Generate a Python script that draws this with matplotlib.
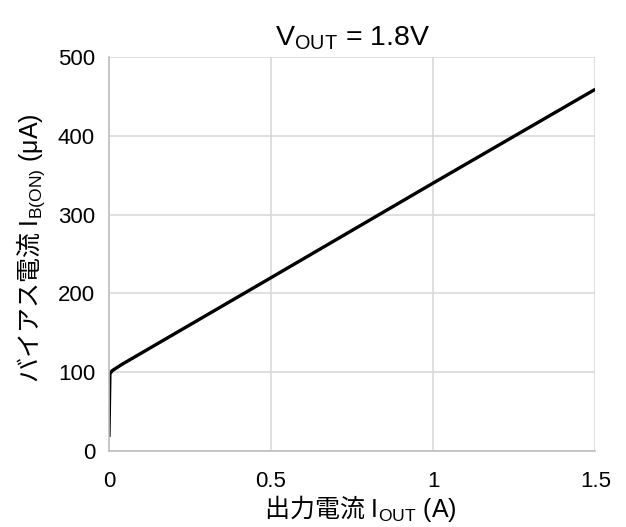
import matplotlib
matplotlib.use("Agg")
import matplotlib.pyplot as plt

plt.rcParams['font.family'] = ['Liberation Sans', 'Noto Sans CJK JP']
plt.rcParams['mathtext.fontset'] = 'custom'
plt.rcParams['mathtext.rm'] = 'Liberation Sans'
plt.rcParams['mathtext.it'] = 'Liberation Sans'
plt.rcParams['mathtext.sf'] = 'Noto Sans CJK JP'
plt.rcParams['mathtext.default'] = 'rm'

# Bias current vs. output current at VOUT = 1.8 V
iout_a = [0.0, 0.003, 0.01, 0.04, 0.5, 1.0, 1.5]
ib_on_ua = [18, 98, 102, 110, 220, 340, 459]

x_ticks = [0, 0.5, 1, 1.5]
x_tick_labels = ['0', '0.5', '1', '1.5']
y_ticks = [0, 100, 200, 300, 400, 500]

fig = plt.figure(figsize=(6.26, 5.27), dpi=100)
ax = fig.add_axes([0.174, 0.144, 0.777, 0.748])

ax.plot(iout_a, ib_on_ua, color='black', linewidth=2.4, solid_capstyle='butt')

ax.set_xlim(0, 1.5)
ax.set_ylim(0, 500)
ax.set_xticks(x_ticks)
ax.set_xticklabels(x_tick_labels)
ax.set_yticks(y_ticks)
ax.tick_params(length=0, labelsize=16, pad=10, colors='black')
ax.tick_params(axis='x', pad=14)

ax.grid(True, color='#d9d9d9', linewidth=1.2)
ax.set_axisbelow(True)
for side in ('top', 'right'):
    ax.spines[side].set_visible(False)
for side in ('left', 'bottom'):
    ax.spines[side].set_color('#bfbfbf')
    ax.spines[side].set_linewidth(1.2)

ax.set_title(r'V$_{\mathrm{OUT}}$ = 1.8V', fontsize=20.5, pad=8)
ax.set_xlabel(r'$\mathsf{出力電流}$ I$_{\mathrm{OUT}}$ (A)', fontsize=18)
ax.set_ylabel(r'$\mathsf{バイアス電流}$ I$_{\mathrm{B(ON)}}$ (μA)', fontsize=18)
ax.xaxis.set_label_coords(0.516, -0.105)
ax.yaxis.set_label_coords(-0.128, 0.515)

fig.savefig('out.png', dpi=100)
